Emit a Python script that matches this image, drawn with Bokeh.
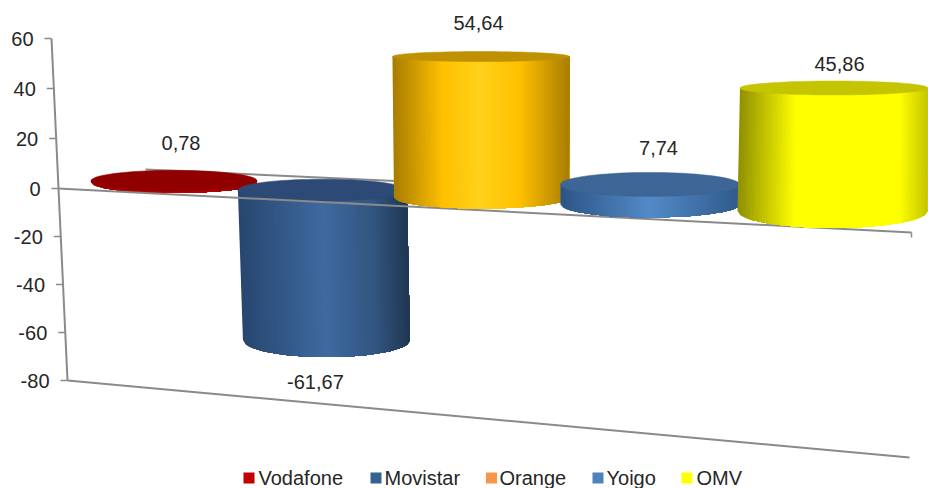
import numpy as np
from bokeh.plotting import figure
from bokeh.models import Range1d
from bokeh.core.properties import value
from bokeh.embed import file_html
from bokeh.resources import INLINE

# ---- chart data
categories = ["Vodafone", "Movistar", "Orange", "Yoigo", "OMV"]
values = [0.78, -61.67, 54.64, 7.74, 45.86]
value_labels = ["0,78", "-61,67", "54,64", "7,74", "45,86"]
tick_values = [60, 40, 20, 0, -20, -40, -60, -80]
tick_labels = ["60", "40", "20", "0", "-20", "-40", "-60", "-80"]

# ---- styles
legend_colors = ["#c00000", "#33608f", "#f79646", "#4f81bd", "#ffff00"]
top_colors = ["#900000", "#2c4a75", "#bf9000", "#3d6595", "#c4c400"]
side_stops = [
    [(0, "#a00000"), (.5, "#c00000"), (1, "#a00000")],
    [(0, "#27466f"), (.5, "#3f6aa0"), (.8, "#31557f"), (1, "#1f3652")],
    [(0, "#a87c00"), (.28, "#ffc000"), (.5, "#ffd11a"), (.72, "#ffc000"), (1, "#a87d00")],
    [(0, "#2c5585"), (.5, "#538ac8"), (1, "#2f5a8a")],
    [(0, "#8f8f00"), (.3, "#ffff00"), (.85, "#ffff00"), (1, "#c5c500")],
]
GREY = "#8a8a8a"
TEXT = "#262626"
FONT = value("Liberation Sans")
FS = "20px"

# ---- layout (page pixels, converted through the figure's own scales)
W, H = 928, 488
X0, Y0, PX_X, PX_Y = 174.0, 188.0, 150.0, 2.5
def X(px): return (np.asarray(px, dtype=float) - X0) / PX_X
def Y(py): return (Y0 - np.asarray(py, dtype=float)) / PX_Y

idx = np.arange(5)
bar_cx = np.array([173.5, 321.9, 481.0, 649.5, 832.0])
bar_base = 182 + 7.9 * idx - 0.2 * idx ** 2
bar_scale = [2.2, 2.43, 2.58, 2.58, 2.68]
bar_halfw_top = [83, 84.5, 88.5, 89.5, 94]
bar_halfw_base = [83, 83.5, 87.5, 89.5, 95]
bar_lean = [0, .027, .004, 0, -.012]
bar_ry_top = [10.5, 11, 5, 12, 7]
bar_ry_base = [10.5, 17, 11, 13, 17]
label_dx = [7, -7, -3, 8.5, 7]
label_dy = [-38, 42, -34, -36, -24]

p = figure(width=W, height=H, output_backend="svg", toolbar_location=None,
           x_range=Range1d(X(0), X(W)), y_range=Range1d(Y(H), Y(0)),
           x_axis_location=None, y_axis_location=None, min_border=0,
           outline_line_color=None, background_fill_color="white")
p.grid.visible = False

def hex2rgb(c): return np.array([int(c[i:i + 2], 16) for i in (1, 3, 5)], float)
def shade(stops, t):
    ts = [s[0] for s in stops]
    cs = np.array([hex2rgb(s[1]) for s in stops])
    rgb = [np.interp(t, ts, cs[:, k]) for k in range(3)]
    return "#%02x%02x%02x" % tuple(int(round(v)) for v in rgb)

def ellipse(cx, cy, a, b, n=80):
    th = np.linspace(0, 2 * np.pi, n)
    return cx + a * np.cos(th), cy + b * np.sin(th)

def draw_bar(i):
    v = values[i]
    base_y = bar_base[i]
    end_y = base_y - bar_scale[i] * v
    lean = bar_lean[i]
    top_y, bot_y = min(base_y, end_y), max(base_y, end_y)
    cx_at = lambda y: bar_cx[i] + lean * (y - base_y)
    a_t, a_b, b_t, b_b = bar_halfw_top[i], bar_halfw_base[i], bar_ry_top[i], bar_ry_base[i]
    n = 70
    edges = np.linspace(0, 1, n + 1)
    # each strip runs from its left edge to the cylinder's right edge, painted in
    # order, so no hairline seams appear between neighbouring strips
    for e0, e1 in zip(edges[:-1], edges[1:]):
        u = np.linspace(e0, 1, max(2, int((1 - e0) * n) + 1)) * 2 - 1
        xt = cx_at(top_y) + u * a_t
        xb = cx_at(bot_y) + u * a_b
        yb = bot_y + b_b * np.sqrt(np.clip(1 - u ** 2, 0, 1))
        px_poly = np.concatenate([[xt[0], xt[-1]], xb[::-1]])
        py_poly = np.concatenate([[top_y, top_y], yb[::-1]])
        p.patch(X(px_poly), Y(py_poly), fill_color=shade(side_stops[i], (e0 + e1) / 2), line_color=None)
    ex, ey = ellipse(cx_at(top_y), top_y, a_t, b_t)
    p.patch(X(ex), Y(ey), fill_color=top_colors[i], line_color=top_colors[i], line_width=0.5)

def line(px, py, w=2.0, c=GREY):
    p.line(X(px), Y(py), line_color=c, line_width=w)

# back edge of the zero plane, behind every bar
line([145, 928], [169, 205])

draw_bar(0)
draw_bar(1)
# front edge of the zero plane
line([57.5, 911], [188, 232])
line([911, 911], [232, 237], w=1.5)
draw_bar(2)
draw_bar(3)
draw_bar(4)

# value axis, slanted, and the floor
def axis_py(v): return Y0 - 2.5 * v if v >= 0 else Y0 - 2.4 * v
def axis_px(py): return 51 + (py - 38) * 0.0468
tick_py = np.array([axis_py(v) for v in tick_values])
tick_px = axis_px(tick_py)
line(tick_px[[0, -1]], tick_py[[0, -1]])
for tx, ty in zip(tick_px, tick_py):
    line([tx - 7, tx], [ty, ty], w=1.5)
p.text(X(tick_px - 18), Y(tick_py), text=tick_labels, text_font=FONT, text_font_size=FS,
       text_color=TEXT, text_align="right", text_baseline="middle")
line([tick_px[-1], 909], [tick_py[-1], 457])

# value labels
ends = bar_base - np.array(bar_scale) * np.array(values)
p.text(X(bar_cx + np.array(label_dx)), Y(ends + np.array(label_dy)), text=value_labels,
       text_font=FONT, text_font_size=FS, text_color=TEXT,
       text_align="center", text_baseline="middle")

# legend
legend_sq = np.array([248.5, 375.5, 491, 597.5, 686.5])
legend_tx = np.array([258, 384, 499, 606, 696])
legend_y = np.full(5, 477.5)
p.rect(X(legend_sq), Y(legend_y), width=11 / PX_X, height=11 / PX_Y,
       fill_color=legend_colors, line_color=None)
p.text(X(legend_tx), Y(legend_y), text=categories, text_font=FONT, text_font_size=FS,
       text_color=TEXT, text_align="left", text_baseline="middle")

open("out.html", "w").write(file_html(p, INLINE))
